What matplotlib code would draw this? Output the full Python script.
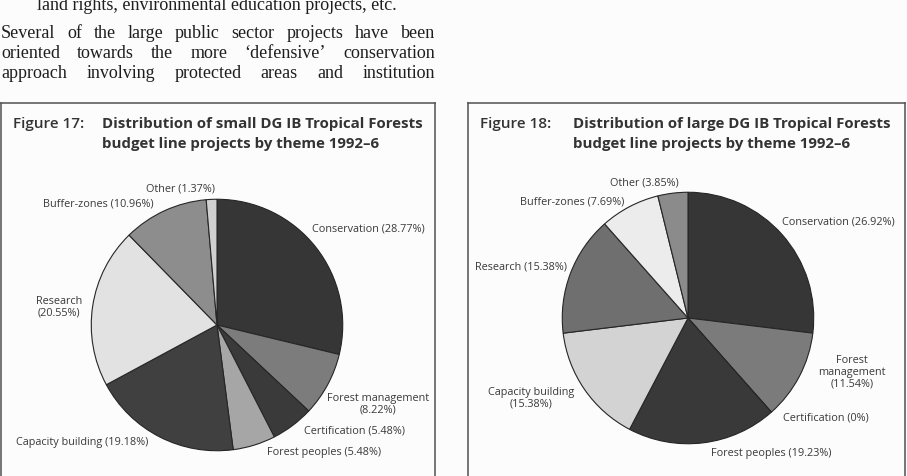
import matplotlib.pyplot as plt
from matplotlib.lines import Line2D

# data (percent of projects)
themes = ['Conservation', 'Forest management', 'Certification', 'Forest peoples',
          'Capacity building', 'Research', 'Buffer-zones', 'Other']
small_pct = [28.77, 8.22, 5.48, 5.48, 19.18, 20.55, 10.96, 1.37]
large_pct = [26.92, 11.54, 0, 19.23, 15.38, 15.38, 7.69, 3.85]

small_labels = ['Conservation (28.77%)', 'Forest management\n(8.22%)', 'Certification (5.48%)',
                'Forest peoples (5.48%)', 'Capacity building (19.18%)', 'Research\n(20.55%)',
                'Buffer-zones (10.96%)', 'Other (1.37%)']
large_labels = ['Conservation (26.92%)', 'Forest\nmanagement\n(11.54%)', 'Certification (0%)',
                'Forest peoples (19.23%)', 'Capacity building\n(15.38%)', 'Research (15.38%)',
                'Buffer-zones (7.69%)', 'Other (3.85%)']

small_greys = ['#363636', '#7c7c7c', '#3a3a3a', '#a6a6a6', '#404040', '#e2e2e2', '#8d8d8d', '#d0d0d0']
large_greys = ['#363636', '#7b7b7b', '#555555', '#393939', '#d3d3d3', '#6f6f6f', '#ececec', '#8b8b8b']

body_first = 'land rights, environmental education projects, etc.'
body_lines = ['Several of the large public sector projects have been',
              'oriented towards the more \u2018defensive\u2019 conservation',
              'approach involving protected areas and institution']

W, H = 907, 477
fig = plt.figure(figsize=(W / 100, H / 100), dpi=100)
fig.patch.set_facecolor('#fcfcfc')


def fx(x):
    return x / W


def fy(y):
    return 1 - y / H


# body text above the figures (justified lines)
serif = dict(family='Liberation Serif', size=13, color='#1e1e1e', va='center')
fig.text(fx(37), fy(6), body_first, **serif)
renderer = fig.canvas.get_renderer()
for row, line in zip([34, 54, 74], body_lines):
    words = line.split()
    texts = [fig.text(0, fy(row), w, **serif) for w in words]
    widths = [t.get_window_extent(renderer).width for t in texts]
    gap = (435 - 1 - sum(widths)) / (len(words) - 1)
    x = 1
    for t, w in zip(texts, widths):
        t.set_x(fx(x))
        x += w + gap


def draw_box(x0, x1, top):
    kw = dict(color='#505050', lw=1.1, transform=fig.transFigure)
    fig.add_artist(Line2D([fx(x0), fx(x1)], [fy(top), fy(top)], **kw))
    fig.add_artist(Line2D([fx(x0), fx(x0)], [fy(top), 0], **kw))
    fig.add_artist(Line2D([fx(x1), fx(x1)], [fy(top), 0], **kw))


def draw_panel(x0, x1, tx, number, title, values, greys, labels, centre, label_pos):
    draw_box(x0, x1, 104)
    sans = dict(family='Open Sans', color='#333333', va='center')
    fig.text(fx(x0 + 12), fy(124), f'Figure {number}:', size=11, fontweight='semibold', **sans)
    fig.text(fx(tx), fy(124), title[0], size=10.8, fontweight='bold', **sans)
    fig.text(fx(tx), fy(144), title[1], size=10.8, fontweight='bold', **sans)

    r = 127
    cx, cy = centre
    ax = fig.add_axes([fx(cx - r), fy(cy + r), 2 * r / W, 2 * r / H])
    ax.pie(values, colors=greys, startangle=90, counterclock=False, radius=1,
           wedgeprops=dict(edgecolor='#262626', linewidth=0.8))
    ax.set_xlim(-1.01, 1.01)
    ax.set_ylim(-1.01, 1.01)
    ax.set_aspect('equal')
    ax.axis('off')

    for lab, (lx, ly, ha) in zip(labels, label_pos):
        fig.text(fx(lx), fy(ly), lab, size=7.8, ha=ha, va='center', family='Open Sans',
                 color='#3a3a3a', multialignment='center', linespacing=1.1)


small_pos = [(312, 229, 'left'), (378, 404, 'center'), (304, 431, 'left'), (267, 453, 'left'),
             (16, 443, 'left'), (59, 307, 'center'), (154, 204, 'right'), (180, 189, 'center')]
large_pos = [(782, 222, 'left'), (852, 372, 'center'), (783, 418, 'left'), (771, 454, 'center'),
             (531, 398, 'center'), (567, 267, 'right'), (624, 202, 'right'), (644, 183, 'center')]

draw_panel(1, 435, 102, 17, ['Distribution of small DG IB Tropical Forests',
                             'budget line projects by theme 1992\u20136'],
           small_pct, small_greys, small_labels, (217, 326), small_pos)
draw_panel(468, 905, 573, 18, ['Distribution of large DG IB Tropical Forests',
                               'budget line projects by theme 1992\u20136'],
           large_pct, large_greys, large_labels, (688, 319), large_pos)

fig.savefig('out.png', dpi=100, facecolor=fig.get_facecolor())
